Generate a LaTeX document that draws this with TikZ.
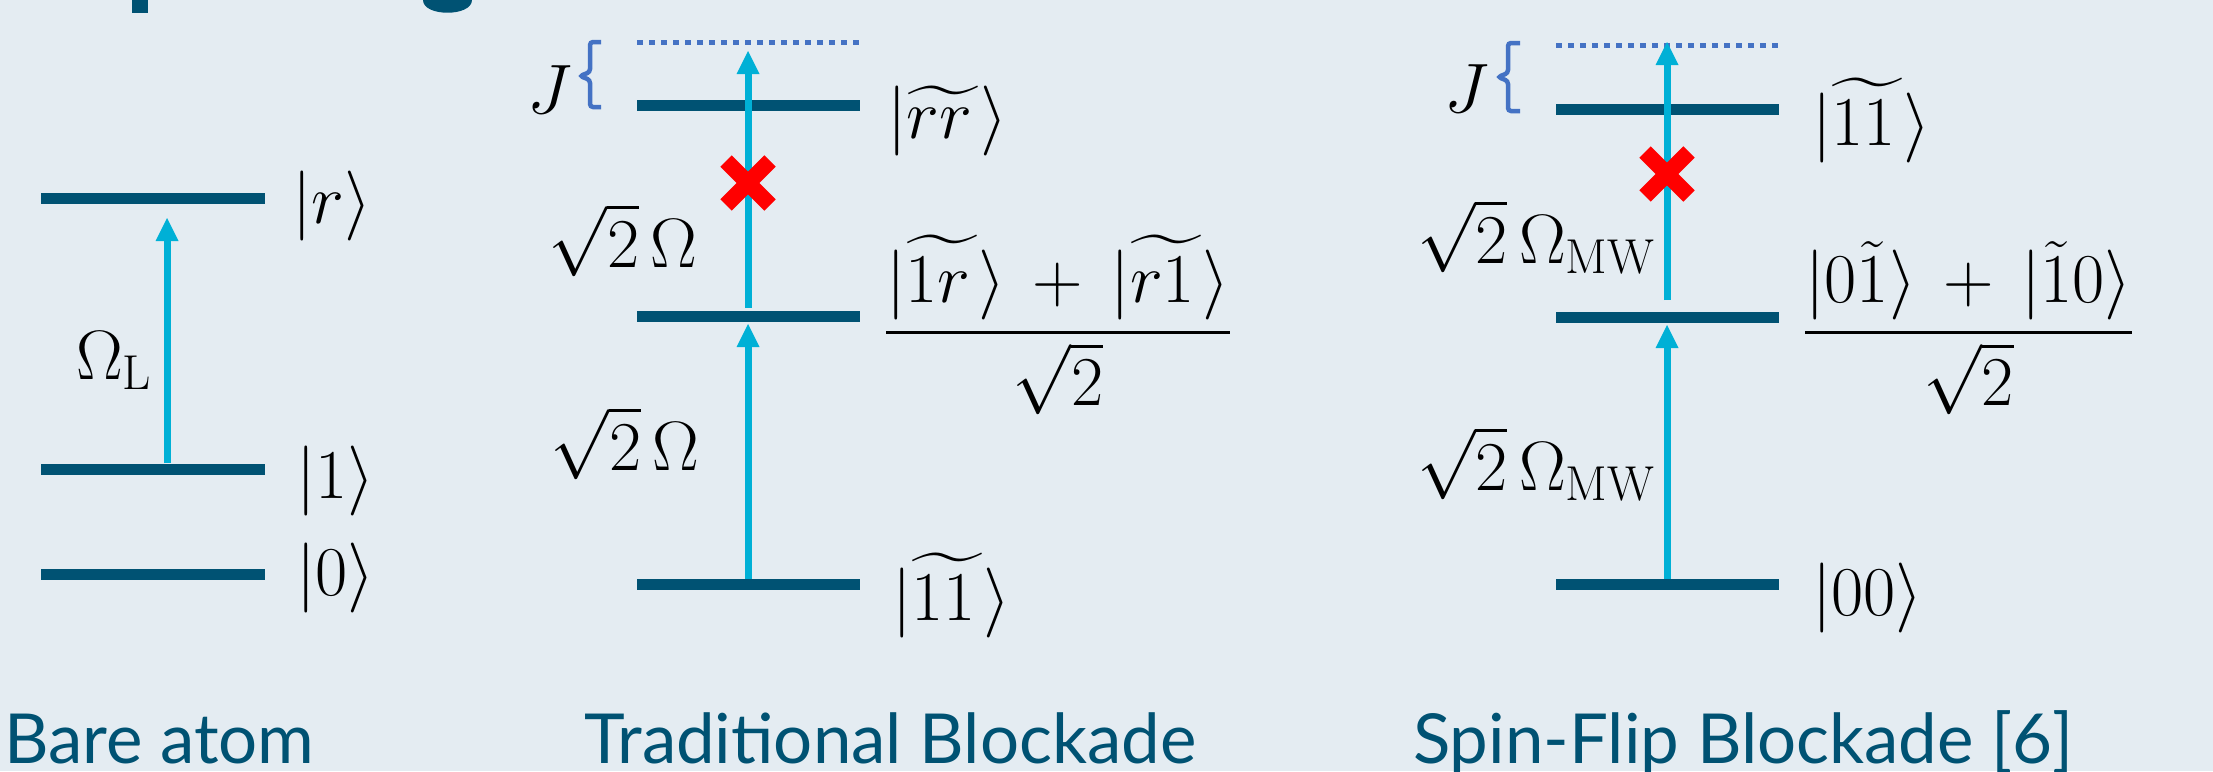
\RequirePackage{fix-cm}
\documentclass[tikz,border=0pt]{standalone}
\usepackage{fontspec}
\DeclareFontShape{OMX}{cmex}{m}{n}{<->cmex10}{}
\newfontfamily\capfont{Lato}
\usetikzlibrary{arrows.meta}
\definecolor{bgc}{RGB}{228,236,242}
\definecolor{levelc}{RGB}{0,82,115}
\definecolor{arrowc}{RGB}{0,176,214}
\definecolor{jblue}{RGB}{68,114,196}
\tikzset{
  level/.style={draw=levelc, line width=11pt},
  trans/.style={draw=arrowc, line width=7pt, -{Triangle[length=23pt,width=23pt,line width=0pt]}},
  virt/.style={draw=jblue, line width=5pt, dash pattern=on 6pt off 6pt},
  jbrace/.style={draw=jblue, line width=4.5pt, rounded corners=3pt},
  lab/.style={inner sep=0pt, font=\fontsize{70}{84}\selectfont},
  caption/.style={inner sep=0pt, text depth=0pt, font=\capfont\fontsize{69}{80}\selectfont, text=levelc, anchor=base west},
  crossmark/.style={draw=red, line width=16pt},
}
\newcommand{\pl}{\mkern3mu+\mkern3mu}
\newcommand{\wt}[1]{\widetilde{#1\mkern2mu}}
\begin{document}
\begin{tikzpicture}[x=1pt,y=-1pt]
\fill[bgc] (0,0) rectangle (2213,771);
\useasboundingbox (0,0) rectangle (2213,771);
% cut-off title fragments
\fill[levelc] (132,0) rectangle (148,13);
\fill[levelc] (423,0) .. controls (423,17) and (472,17) .. (472,0) -- cycle;

% ===== Bare atom =====
\draw[level] (41,198) -- (265,198);
\draw[level] (41,469) -- (265,469);
\draw[level] (41,574) -- (265,574);
\coordinate (ba0) at (167,463);
\coordinate (ba1) at (167,218);
\draw[trans] (ba0) -- (ba1);
\node[lab, anchor=west] (kr) at (292,206) {$|r\rangle$};
\node[lab, anchor=west] (k1) at (296,481) {$|1\rangle$};
\node[lab, anchor=west] (k0) at (296,578) {$|0\rangle$};
\node[lab, anchor=base west] (OL) at (76,379) {$\Omega_{\mathrm{L}}$};
\node[caption] (capA) at (4,763) {Bare atom};

% ===== Traditional blockade =====
\draw[virt] (637,42) -- (860,42);
\draw[level] (637,105) -- (860,105);
\draw[level] (637,316) -- (860,316);
\draw[level] (637,584) -- (860,584);
\coordinate (ta0) at (748,579);
\coordinate (ta1) at (748,324);
\coordinate (ta2) at (748,308);
\coordinate (ta3) at (748,51);
\draw[trans] (ta0) -- (ta1);
\draw[trans] (ta2) -- (ta3);
\coordinate (tx) at (748,183);
\draw[crossmark] ([shift={(-22,-22)}]tx) -- ([shift={(22,22)}]tx);
\draw[crossmark] ([shift={(-22,22)}]tx) -- ([shift={(22,-22)}]tx);
\draw[jbrace] (601,42) -- (590,42) -- (590,72) -- (580,76) -- (590,80) -- (590,107) -- (601,107);
\node[lab, anchor=base east] (tJ) at (572,113) {$J$};
\node[lab, anchor=base east] (tO1) at (698,267) {$\sqrt{2}\,\Omega$};
\node[lab, anchor=base east] (tO2) at (700,470) {$\sqrt{2}\,\Omega$};
\node[lab, anchor=base west] (trr) at (887,138) {$|\wt{rr}\rangle$};
\node[lab, anchor=base west] (tfr) at (885,350) {$\displaystyle\frac{|\wt{1r}\rangle\pl|\wt{r1}\rangle}{\sqrt{2}}$};
\node[lab, anchor=base west] (t11) at (892,620) {$|\wt{11}\rangle$};
\node[caption] (capB) at (584,763) {Traditional Blockade};

% ===== Spin-flip blockade =====
\draw[virt] (1556,45) -- (1779,45);
\draw[level] (1556,109) -- (1779,109);
\draw[level] (1556,317) -- (1779,317);
\draw[level] (1556,584) -- (1779,584);
\coordinate (sa0) at (1667,579);
\coordinate (sa1) at (1667,325);
\coordinate (sa2) at (1667,300);
\coordinate (sa3) at (1667,42);
\draw[trans] (sa0) -- (sa1);
\draw[trans] (sa2) -- (sa3);
\coordinate (sx) at (1667,174);
\draw[crossmark] ([shift={(-22,-22)}]sx) -- ([shift={(22,22)}]sx);
\draw[crossmark] ([shift={(-22,22)}]sx) -- ([shift={(22,-22)}]sx);
\draw[jbrace] (1520,43) -- (1508,43) -- (1508,73) -- (1498,77) -- (1508,81) -- (1508,111) -- (1520,111);
\node[lab, anchor=base east] (sJ) at (1489,112) {$J$};
\node[lab, anchor=base east] (sO1) at (1655,263) {$\sqrt{2}\,\Omega_{\mathrm{MW}}$};
\node[lab, anchor=base east] (sO2) at (1655,490) {$\sqrt{2}\,\Omega_{\mathrm{MW}}$};
\node[lab, anchor=base west] (s11) at (1812,145) {$|\wt{11}\rangle$};
\node[lab, anchor=base west] (sfr) at (1804,350) {$\displaystyle\frac{|0\tilde{1}\rangle\pl|\tilde{1}0\rangle}{\sqrt{2}}$};
\node[lab, anchor=base west] (s00) at (1812,615) {$|00\rangle$};
\node[caption] (capC) at (1413,763) {Spin-Flip Blockade [6]};
\end{tikzpicture}
\end{document}
